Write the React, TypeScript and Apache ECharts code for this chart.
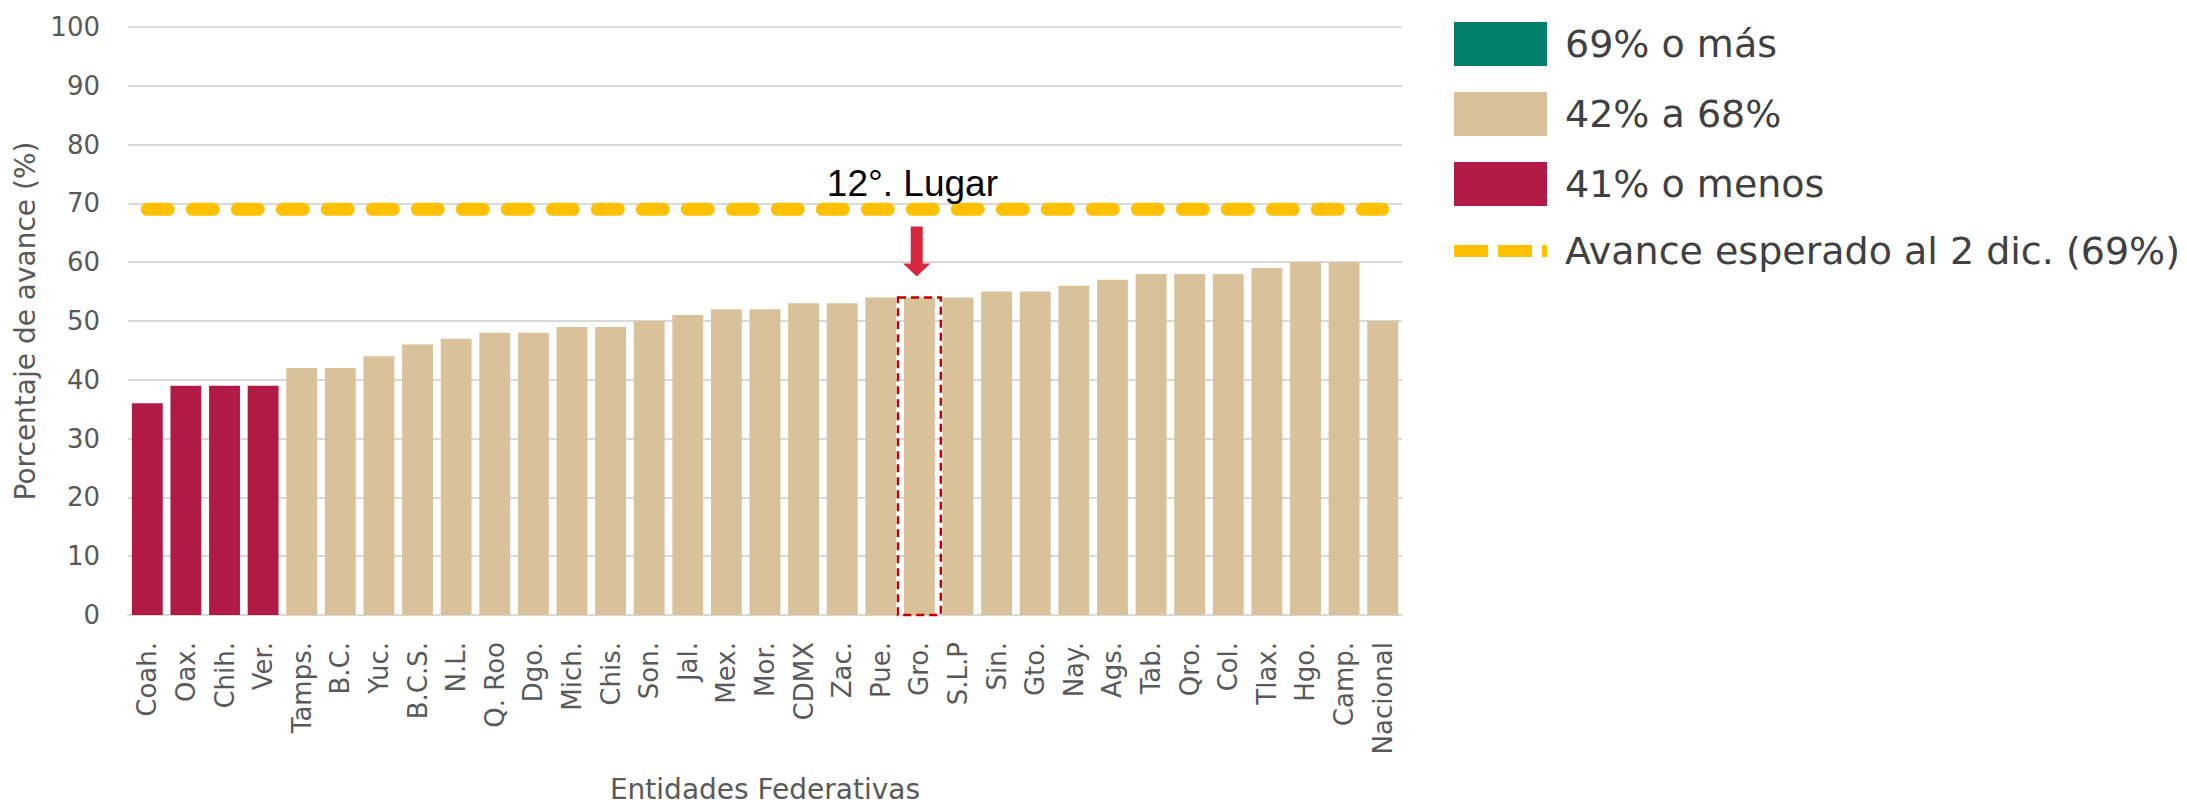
import React, { useEffect, useRef } from 'react';
import * as echarts from 'echarts';

const categories = ['Coah.', 'Oax.', 'Chih.', 'Ver.', 'Tamps.', 'B.C.', 'Yuc.', 'B.C.S.', 'N.L.', 'Q. Roo', 'Dgo.', 'Mich.', 'Chis.', 'Son.', 'Jal.', 'Mex.', 'Mor.', 'CDMX', 'Zac.', 'Pue.', 'Gro.', 'S.L.P', 'Sin.', 'Gto.', 'Nay.', 'Ags.', 'Tab.', 'Qro.', 'Col.', 'Tlax.', 'Hgo.', 'Camp.', 'Nacional'];
const values = [36, 39, 39, 39, 42, 42, 44, 46, 47, 48, 48, 49, 49, 50, 51, 52, 52, 53, 53, 54, 54, 54, 55, 55, 56, 57, 58, 58, 58, 59, 60, 60, 50];
const EXPECTED = 69;
const HIGH_MIN = 69;
const LOW_MAX = 41;
const highlightCategory = 'Gro.';
const highlightLabel = '12°. Lugar';

const seriesNames = ['69% o más', '42% a 68%', '41% o menos', 'Avance esperado al 2 dic. (69%)'];
const yTicks = { min: 0, max: 100, interval: 10 };

const FONT = 'DejaVu Sans';
const GREY = '#595959';

export default function App() {
  const ref = useRef<HTMLDivElement>(null);
  useEffect(() => {
    document.body.style.margin = '0';
    const chart = echarts.init(ref.current!, null, { renderer: 'svg' });
    const high = values.map(v => (v >= HIGH_MIN ? v : '-'));
    const mid = values.map(v => (v > LOW_MAX && v < HIGH_MIN ? v : '-'));
    const low = values.map(v => (v <= LOW_MAX ? v : '-'));
    const expected = categories.map(() => EXPECTED);
    const hIdx = categories.indexOf(highlightCategory);

    const barCommon = { type: 'bar', stack: 'total', barCategoryGap: '20%' };

    chart.setOption({
      animation: false,
      backgroundColor: '#ffffff',
      grid: { left: 128, right: 785, top: 27, bottom: 191, containLabel: false },
      legend: {
        orient: 'vertical',
        left: 1448,
        top: 22,
        padding: 0,
        itemWidth: 93,
        itemHeight: 44,
        itemGap: 26,
        selectedMode: false,
        textStyle: { fontSize: 38, fontFamily: FONT, color: '#404040', padding: [0, 0, 0, 13] },
        data: [
          { name: seriesNames[0], icon: 'rect' },
          { name: seriesNames[1], icon: 'rect' },
          { name: seriesNames[2], icon: 'rect' },
          {
            name: seriesNames[3],
            itemStyle: { opacity: 0 },
            lineStyle: { width: 12, type: [34, 10], cap: 'butt', opacity: 1 },
          },
        ],
      },
      xAxis: {
        type: 'category',
        data: categories,
        name: 'Entidades Federativas',
        nameLocation: 'middle',
        nameGap: 160,
        nameTextStyle: { fontSize: 28, fontFamily: FONT, color: GREY },
        axisLine: { lineStyle: { color: '#d9d9d9', width: 2 } },
        axisTick: { show: false },
        axisLabel: { rotate: 90, interval: 0, fontSize: 26, fontFamily: FONT, color: GREY, margin: 27 },
      },
      yAxis: {
        type: 'value',
        min: yTicks.min,
        max: yTicks.max,
        interval: yTicks.interval,
        name: 'Porcentaje de avance (%)',
        nameLocation: 'middle',
        nameGap: 86,
        nameTextStyle: { fontSize: 28, fontFamily: FONT, color: GREY },
        axisLine: { show: false },
        axisTick: { show: false },
        axisLabel: { fontSize: 26, fontFamily: FONT, color: GREY, margin: 28 },
        splitLine: { lineStyle: { color: '#d9d9d9', width: 2 } },
      },
      series: [
        { ...barCommon, name: seriesNames[0], data: high, itemStyle: { color: '#00806B' } },
        { ...barCommon, name: seriesNames[1], data: mid, itemStyle: { color: '#D9C29A' } },
        { ...barCommon, name: seriesNames[2], data: low, itemStyle: { color: '#B01A44' } },
        {
          type: 'line',
          name: seriesNames[3],
          data: expected,
          symbol: 'none',
          z: 5,
          itemStyle: { color: '#FFC000' },
          lineStyle: { color: '#FFC000', width: 13, type: [21, 24], cap: 'round' },
        },
        {
          type: 'custom',
          name: 'highlight',
          z: 10,
          data: [[hIdx, values[hIdx]]],
          encode: { x: 0, y: 1 },
          renderItem: (params: any, api: any) => {
            const idx = api.value(0);
            const v = api.value(1);
            const top = api.coord([idx, v]);
            const base = api.coord([idx, 0]);
            const line = api.coord([idx, EXPECTED]);
            const band = api.size([1, 0])[0];
            const bw = band * 1.11;
            const cx = top[0];
            const ty = top[1];
            return {
              type: 'group',
              children: [
                {
                  type: 'rect',
                  shape: { x: cx - bw / 2, y: ty, width: bw, height: base[1] - ty },
                  style: { fill: 'none', stroke: '#C00000', lineWidth: 2.5, lineDash: [8, 5] },
                },
                {
                  type: 'polygon',
                  shape: {
                    points: [
                      [cx - 8.7, ty - 71], [cx + 3.3, ty - 71], [cx + 3.3, ty - 34],
                      [cx + 11, ty - 34], [cx - 2.7, ty - 21], [cx - 16.4, ty - 34], [cx - 8.7, ty - 34],
                    ],
                  },
                  style: { fill: '#D7283F' },
                },
                {
                  type: 'text',
                  style: {
                    text: highlightLabel,
                    x: cx - 7,
                    y: line[1] - 26,
                    align: 'center',
                    verticalAlign: 'middle',
                    fontSize: 37,
                    fontFamily: 'Liberation Sans',
                    fill: '#000000',
                  },
                },
              ],
            };
          },
        },
      ],
    });
    return () => chart.dispose();
  }, []);
  return <div ref={ref} style={{ width: 2187, height: 808 }} />;
}
